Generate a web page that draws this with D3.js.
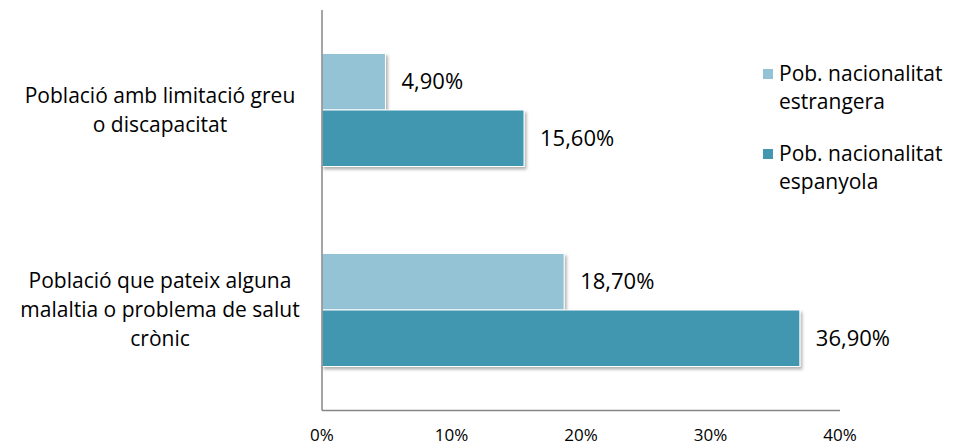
<!DOCTYPE html>
<html>
<head>
<meta charset="utf-8">
<script src="https://cdn.jsdelivr.net/npm/d3@7"></script>
<style>
  body { margin: 0; background: #fff; }
  text { font-family: "Open Sans", Lato, sans-serif; fill: #000; }
</style>
</head>
<body>
<script>
var categories = [
  ["Població amb limitació greu", "o discapacitat"],
  ["Població que pateix alguna", "malaltia o problema de salut", "crònic"]
];
var series = ["Pob. nacionalitat estrangera", "Pob. nacionalitat espanyola"];
var legendLines = [["Pob. nacionalitat", "estrangera"], ["Pob. nacionalitat", "espanyola"]];
var estrangera = [4.9, 18.7];
var espanyola = [15.6, 36.9];
var ticks = [0, 10, 20, 30, 40];
var colors = ["#93c3d4", "#4397b0"];

var width = 958,
    height = 447;

var svg = d3.select('body')
  .append('svg')
  .attr('width', width)
  .attr('height', height);

var defs = svg.append('defs');
var f = defs.append('filter').attr('id', 'shadow')
  .attr('x', '-10%').attr('y', '-20%').attr('width', '130%').attr('height', '150%');
f.append('feDropShadow')
  .attr('dx', 2).attr('dy', 2.5).attr('stdDeviation', 1.5)
  .attr('flood-color', '#000').attr('flood-opacity', 0.3);

var x = d3.scaleLinear().domain([0, 40]).range([322, 840]);
var y = d3.scaleBand().domain(d3.range(categories.length)).range([10, 410])
  .paddingInner(0.435).paddingOuter(0.2175);
var ySub = d3.scaleBand().domain([0, 1]).range([0, y.bandwidth()]);

var rows = [];
categories.forEach(function(c, i) {
  rows.push({cat: i, s: 0, v: estrangera[i]});
  rows.push({cat: i, s: 1, v: espanyola[i]});
});

var fmt = function(v) { return v.toFixed(2).replace('.', ',') + '%'; };

var bars = svg.append('g').attr('class', 'bars');
bars.selectAll('rect')
  .data(rows)
  .enter()
  .append('rect')
  .attr('x', x(0))
  .attr('y', function(d) { return y(d.cat) + ySub(d.s); })
  .attr('width', function(d) { return x(d.v) - x(0); })
  .attr('height', ySub.bandwidth())
  .attr('fill', function(d) { return colors[d.s]; })
  .attr('stroke', '#fff')
  .attr('stroke-width', 1)
  .attr('filter', 'url(#shadow)');

bars.selectAll('text')
  .data(rows)
  .enter()
  .append('text')
  .attr('x', function(d) { return x(d.v) + 16; })
  .attr('y', function(d) { return y(d.cat) + ySub(d.s) + ySub.bandwidth() / 2; })
  .attr('dy', '0.35em')
  .style('font-size', '22px')
  .text(function(d) { return fmt(d.v); });

// axes
var axisColor = '#868686';
svg.append('line')
  .attr('x1', x(0)).attr('x2', x(0))
  .attr('y1', 10).attr('y2', 410.5)
  .attr('stroke', axisColor).attr('stroke-width', 1.5);
svg.append('line')
  .attr('x1', x(0)).attr('x2', x(40))
  .attr('y1', 410.5).attr('y2', 410.5)
  .attr('stroke', axisColor).attr('stroke-width', 1.5);

svg.append('g').selectAll('text')
  .data(ticks)
  .enter()
  .append('text')
  .attr('x', function(d) { return x(d); })
  .attr('y', 435)
  .attr('dy', '0.35em')
  .attr('text-anchor', 'middle')
  .style('font-size', '17px')
  .text(function(d) { return d + '%'; });

// category labels
var lineH = 29;
var catG = svg.append('g').selectAll('text')
  .data(categories)
  .enter()
  .append('text')
  .attr('text-anchor', 'middle')
  .style('font-size', '21px');
catG.each(function(lines, i) {
  var cy = y(i) + y.bandwidth() / 2;
  var top = cy - (lines.length - 1) * lineH / 2;
  d3.select(this).selectAll('tspan')
    .data(lines)
    .enter()
    .append('tspan')
    .attr('x', 160)
    .attr('y', function(d, j) { return top + j * lineH; })
    .attr('dy', '0.35em')
    .text(function(d) { return d; });
});

// legend
var legend = svg.append('g').selectAll('g')
  .data(series)
  .enter()
  .append('g')
  .attr('transform', function(d, i) { return 'translate(763,' + (69 + i * 80) + ')'; });
legend.append('rect')
  .attr('width', 10).attr('height', 10)
  .attr('fill', function(d, i) { return colors[i]; });
legend.append('text')
  .style('font-size', '21px')
  .selectAll('tspan')
  .data(function(d, i) { return legendLines[i]; })
  .enter()
  .append('tspan')
  .attr('x', 16)
  .attr('y', function(d, j) { return 5 + j * 28; })
  .attr('dy', '0.35em')
  .text(function(d) { return d; });
</script>
</body>
</html>
